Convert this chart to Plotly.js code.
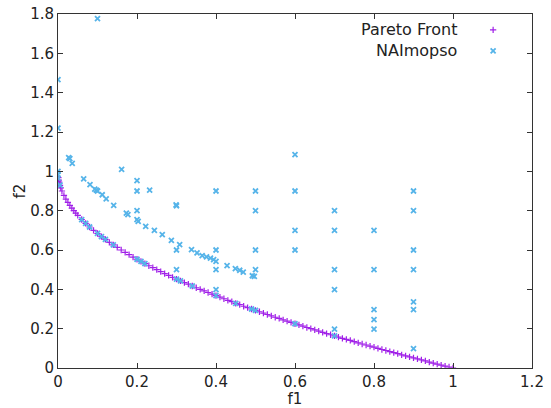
<!DOCTYPE html>
<html>
<head>
<meta charset="utf-8">
<script src="https://cdn.plot.ly/plotly-3.0.1.min.js"></script>
<style>html,body{margin:0;padding:0;background:#fff;}#chart{width:551px;height:408px;}</style>
</head>
<body>
<div id="chart"></div>
<script>
// Pareto front
var paretoF1 = [0,0.001,0.002,0.003,0.005,0.007,0.01,0.015,0.02,0.025,0.03,0.035,0.04,0.045,0.05,0.06,0.07,0.08,0.09,0.10,0.11,0.12,0.13,0.14,0.15,0.16,0.17,0.18,0.19,0.20,0.21,0.22,0.23,0.24,0.25,0.26,0.27,0.28,0.29,0.30,0.31,0.32,0.33,0.34,0.35,0.36,0.37,0.38,0.39,0.40,0.41,0.42,0.43,0.44,0.45,0.46,0.47,0.48,0.49,0.50,0.51,0.52,0.53,0.54,0.55,0.56,0.57,0.58,0.59,0.60,0.61,0.62,0.63,0.64,0.65,0.66,0.67,0.68,0.69,0.70,0.71,0.72,0.73,0.74,0.75,0.76,0.77,0.78,0.79,0.80,0.81,0.82,0.83,0.84,0.85,0.86,0.87,0.88,0.89,0.90,0.91,0.92,0.93,0.94,0.95,0.96,0.97,0.98,0.99,1.00];
var paretoF2 = [0.95,0.968,0.955,0.945,0.929,0.916,0.900,0.878,0.859,0.842,0.827,0.813,0.800,0.788,0.776,0.755,0.735,0.717,0.700,0.684,0.668,0.654,0.639,0.626,0.613,0.600,0.588,0.576,0.564,0.553,0.542,0.531,0.520,0.510,0.500,0.490,0.480,0.471,0.461,0.452,0.443,0.434,0.426,0.417,0.408,0.400,0.392,0.384,0.376,0.368,0.360,0.352,0.344,0.337,0.329,0.322,0.314,0.307,0.300,0.293,0.286,0.279,0.272,0.265,0.258,0.252,0.245,0.238,0.232,0.225,0.219,0.213,0.206,0.200,0.194,0.188,0.181,0.175,0.169,0.163,0.157,0.151,0.146,0.140,0.134,0.128,0.122,0.117,0.111,0.106,0.100,0.094,0.089,0.083,0.078,0.073,0.067,0.062,0.057,0.051,0.046,0.041,0.036,0.030,0.025,0.020,0.015,0.010,0.005,0.000];

// NAImopso solutions
var naiF1 = [0.1,0,0,0.027,0.03,0.036,0,0,0,0.065,0.081,0.093,0.097,0.1,0.112,0.122,0.141,0.161,0.173,0.177,0.2,0.2,0.232,0.2,0.2,0.203,0.222,0.244,0.264,0.287,0.299,0.3,0.308,0.3,0.3,0.338,0.352,0.365,0.376,0.386,0.394,0.4,0.4,0.4,0.4,0.4,0.428,0.449,0.46,0.469,0.492,0.497,0.5,0.5,0.5,0.5,0.6,0.6,0.6,0.6,0.7,0.7,0.7,0.7,0.7,0.8,0.8,0.8,0.8,0.8,0.9,0.9,0.9,0.9,0.9,0.9,0.9,
  0.005,0.06,0.07,0.08,0.1,0.11,0.12,0.14,0.2,0.21,0.22,0.3,0.31,0.34,0.4,0.45,0.49,0.5,0.6,0.7];
var naiF2 = [1.777,1.466,1.22,1.07,1.065,1.04,1.0,0.983,0.965,0.962,0.932,0.91,0.905,0.9,0.881,0.86,0.827,1.01,0.788,0.78,0.953,0.9,0.905,0.8,0.754,0.745,0.72,0.7,0.678,0.649,0.83,0.825,0.627,0.6,0.5,0.602,0.585,0.571,0.565,0.559,0.551,0.542,0.6,0.5,0.398,0.9,0.52,0.505,0.497,0.488,0.469,0.466,0.5,0.6,0.8,0.9,1.085,0.9,0.7,0.6,0.8,0.7,0.5,0.398,0.198,0.7,0.5,0.297,0.246,0.198,0.9,0.8,0.6,0.5,0.336,0.297,0.098,
  0.93,0.755,0.735,0.717,0.684,0.668,0.654,0.626,0.553,0.542,0.531,0.452,0.443,0.417,0.368,0.329,0.3,0.293,0.225,0.163];

var seriesNames = ["Pareto Front", "NAImopso"];
var purple = "#a020e8", blue = "#56b4e9";
var xTicks = [0,0.2,0.4,0.6,0.8,1,1.2];
var yTicks = [0,0.2,0.4,0.6,0.8,1,1.2,1.4,1.6,1.8];

var font = {family: "DejaVu Sans, sans-serif", size: 15, color: "#222"};

var paretoMarker = {symbol: "cross-thin", size: 4.5, color: purple, line: {color: purple, width: 1.2}};
var naiMarker = {symbol: "x-thin", size: 5, color: blue, line: {color: blue, width: 1.8}};

var traces = [
  {x: paretoF1, y: paretoF2, type: "scatter", mode: "markers", name: seriesNames[0], showlegend: false, marker: paretoMarker},
  {x: naiF1, y: naiF2, type: "scatter", mode: "markers", name: seriesNames[1], showlegend: false, marker: naiMarker},
  // legend keys on an overlay axis (0..1 of the plot area)
  {x: [0.918], y: [0.955], xaxis: "x2", yaxis: "y2", type: "scatter", mode: "markers", showlegend: false, hoverinfo: "skip", marker: paretoMarker},
  {x: [0.918], y: [0.896], xaxis: "x2", yaxis: "y2", type: "scatter", mode: "markers", showlegend: false, hoverinfo: "skip", marker: naiMarker}
];

var axisBase = {showline: true, mirror: "ticks", linecolor: "#333", linewidth: 1, ticks: "inside", ticklen: 5,
  tickcolor: "#333", showgrid: false, zeroline: false, tickfont: font};

var layout = {
  width: 551, height: 408,
  margin: {l: 58, r: 19, t: 14, b: 40, pad: 0},
  paper_bgcolor: "#fff", plot_bgcolor: "#fff",
  font: font,
  showlegend: false,
  xaxis: Object.assign({}, axisBase, {range: [0, 1.2], tickvals: xTicks, ticktext: xTicks.map(String),
    title: {text: "f1", font: font, standoff: 7}}),
  yaxis: Object.assign({}, axisBase, {range: [0, 1.8], tickvals: yTicks, ticktext: yTicks.map(String),
    title: {text: "f2", font: font, standoff: 0}}),
  xaxis2: {overlaying: "x", range: [0, 1], visible: false, fixedrange: true},
  yaxis2: {overlaying: "y", range: [0, 1], visible: false, fixedrange: true},
  annotations: [
    {xref: "paper", yref: "paper", x: 0.846, y: 0.955, xanchor: "right", yanchor: "middle", showarrow: false,
     text: seriesNames[0], font: {family: font.family, size: 16, color: "#222"}},
    {xref: "paper", yref: "paper", x: 0.846, y: 0.896, xanchor: "right", yanchor: "middle", showarrow: false,
     text: seriesNames[1], font: {family: font.family, size: 16, color: "#222"}}
  ]
};

Plotly.newPlot("chart", traces, layout, {staticPlot: true, displayModeBar: false});
</script>
</body>
</html>
